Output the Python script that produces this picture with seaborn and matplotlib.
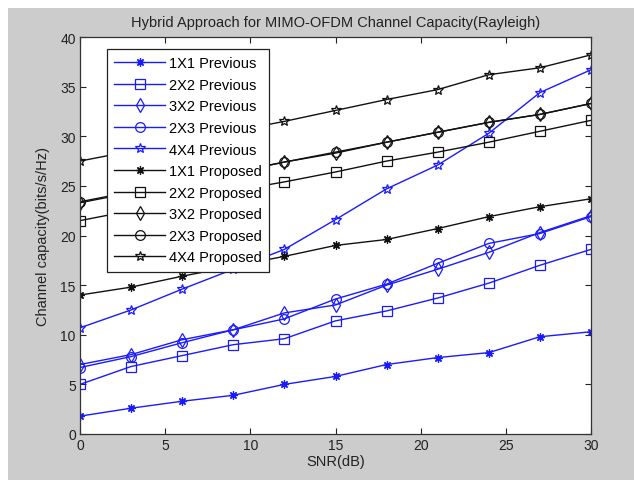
import matplotlib
matplotlib.use("Agg")
import matplotlib.pyplot as plt
from matplotlib.patches import Rectangle
import seaborn as sns

plt.rcParams['font.family'] = ['Liberation Sans', 'DejaVu Sans']

snr = [0, 3, 6, 9, 12, 15, 18, 21, 24, 27, 30]

prev_1x1 = [1.8, 2.6, 3.3, 3.9, 5.0, 5.8, 7.0, 7.7, 8.2, 9.8, 10.3]
prev_2x2 = [5.0, 6.8, 7.9, 9.0, 9.6, 11.4, 12.4, 13.7, 15.2, 17.0, 18.6]
prev_3x2 = [7.0, 8.0, 9.5, 10.5, 12.2, 13.0, 15.0, 16.6, 18.3, 20.3, 22.0]
prev_2x3 = [6.7, 7.8, 9.2, 10.5, 11.6, 13.6, 15.1, 17.2, 19.2, 20.2, 21.9]
prev_4x4 = [10.7, 12.5, 14.6, 16.6, 18.6, 21.6, 24.7, 27.1, 30.3, 34.4, 36.7]

prop_1x1 = [14.0, 14.8, 15.9, 16.9, 17.9, 19.0, 19.6, 20.7, 21.9, 22.9, 23.7]
prop_2x2 = [21.5, 22.5, 23.5, 24.5, 25.4, 26.4, 27.5, 28.4, 29.4, 30.5, 31.6]
prop_3x2 = [23.3, 24.3, 25.3, 26.3, 27.4, 28.3, 29.4, 30.4, 31.4, 32.2, 33.3]
prop_2x3 = [23.4, 24.4, 25.4, 26.4, 27.4, 28.4, 29.4, 30.4, 31.4, 32.2, 33.3]
prop_4x4 = [27.5, 28.5, 29.5, 30.5, 31.5, 32.6, 33.7, 34.7, 36.2, 36.9, 38.2]

labels = ["1X1 Previous", "2X2 Previous", "3X2 Previous", "2X3 Previous", "4X4 Previous",
          "1X1 Proposed", "2X2 Proposed", "3X2 Proposed", "2X3 Proposed", "4X4 Proposed"]
series = [prev_1x1, prev_2x2, prev_3x2, prev_2x3, prev_4x4,
          prop_1x1, prop_2x2, prop_3x2, prop_2x3, prop_4x4]

blue = '#1a1aff'
black = '#111111'
colors = [blue] * 5 + [black] * 5
markers = [(8, 2, 0), 's', 'd', 'o', '*'] * 2
msizes = [6, 6.5, 7, 7, 7.5] * 2

fig = plt.figure(figsize=(6.34, 4.81), dpi=100, facecolor='white')
fig.patches.append(Rectangle((8 / 634, 0), 1, (481 - 9) / 481, transform=fig.transFigure,
                             facecolor='#cccccc', edgecolor='none', zorder=-10))
ax = fig.add_axes([80 / 634, 46 / 481, 511 / 634, 397 / 481])
ax.set_facecolor('white')

for lab, ys, c, m, ms in zip(labels, series, colors, markers, msizes):
    sns.lineplot(x=snr, y=ys, ax=ax, color=c, marker=m, markersize=ms,
                 markerfacecolor='none', markeredgecolor=c, markeredgewidth=0.9,
                 linewidth=1.0, label=lab)

ax.set_xlim(0, 30)
ax.set_ylim(0, 40)
ax.set_xticks(range(0, 31, 5))
ax.set_yticks(range(0, 41, 5))
ax.tick_params(direction='in', top=True, right=True, length=4, width=0.8,
               labelsize=10, colors='#222222', pad=3)
for s in ax.spines.values():
    s.set_color('#333333')
    s.set_linewidth(0.9)

ax.set_title("Hybrid Approach for MIMO-OFDM Channel Capacity(Rayleigh)", fontsize=10.5,
             color='#222222', pad=8)
ax.set_xlabel("SNR(dB)", fontsize=10.5, color='#222222', labelpad=1)
ax.set_ylabel("Channel capacity(bits/s/Hz)", fontsize=10.5, color='#222222', labelpad=7)

leg = ax.legend(loc='upper left', bbox_to_anchor=(0.053, 0.97), fontsize=10.5,
                frameon=True, fancybox=False, framealpha=1, edgecolor='#222222',
                handlelength=3.45, labelspacing=0.52, borderpad=0.5, handletextpad=0.3,
                borderaxespad=0)
leg.get_frame().set_linewidth(0.9)

fig.savefig("out.png", dpi=100, facecolor=fig.get_facecolor())
